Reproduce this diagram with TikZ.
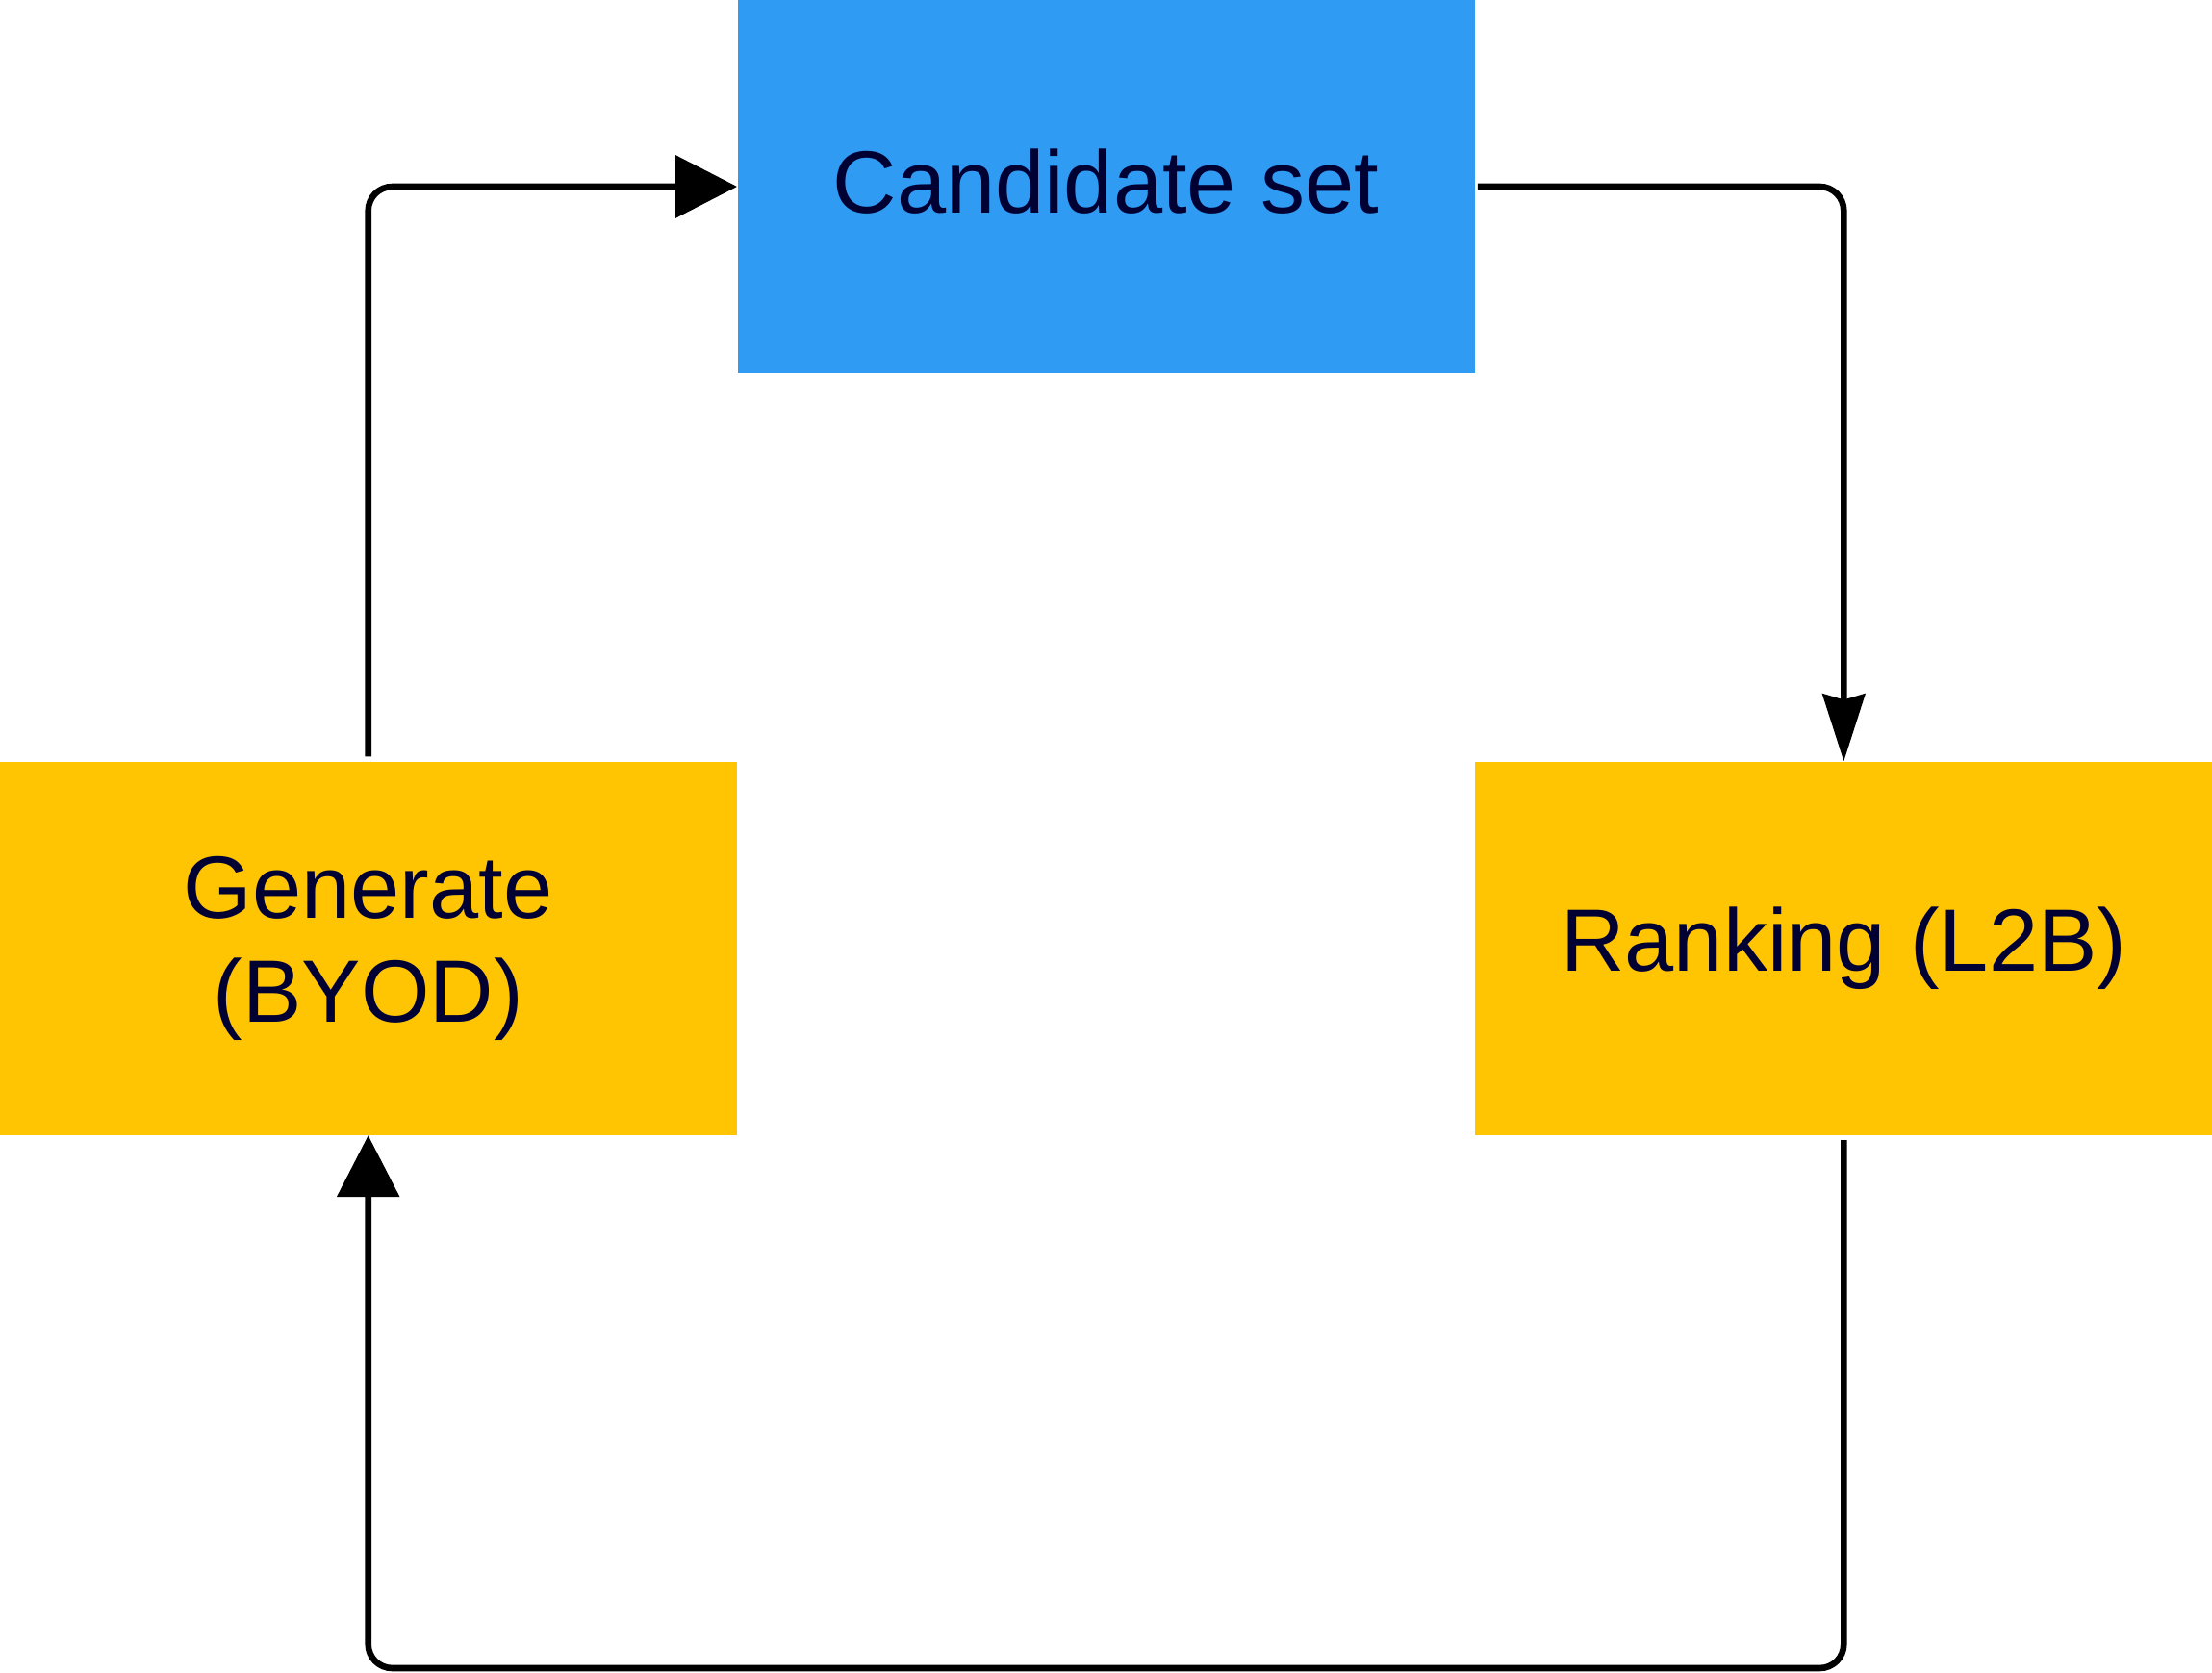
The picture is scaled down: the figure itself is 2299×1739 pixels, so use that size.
\documentclass[tikz,border=0pt]{standalone}
\usepackage{fontspec}
\setmainfont{Liberation Sans}
\usepackage{tikz}
\usetikzlibrary{arrows.meta, positioning}
\usepackage{xcolor}
\definecolor{setBlue}{RGB}{47,155,242}
\definecolor{stepYellow}{RGB}{255,197,3}
\definecolor{labelNavy}{RGB}{0,0,51}
\tikzstyle{stage} = [
    rectangle,
    fill=stepYellow,
    minimum width=383pt,
    minimum height=194pt,
    inner sep=0pt,
    text=labelNavy,
    align=center,
    font=\fontsize{46}{54}\selectfont
]
\tikzstyle{pool} = [
    stage,
    fill=setBlue
]
\tikzstyle{flow} = [
    line width=3.3pt,
    rounded corners=12.5pt
]

\begin{document}
\begin{tikzpicture}[x=0.5pt, y=-0.5pt]
            \useasboundingbox (0,0) rectangle (2299,1739);
            \node[pool] (candidateSet) at (1149.5,194) {Candidate set\rule[-6pt]{0pt}{0pt}};
            \node[stage] (generate) [below left=201.5pt and 0pt of candidateSet] {Generate\\(BYOD)};
            \node[stage] (ranking) [below right=201.5pt and 0pt of candidateSet] {Ranking (L2B)};
            \coordinate (loopBack) at (1149.5,1734);

            \draw[flow, -{Triangle[length=32pt, width=32pt]}, shorten <=2.5pt] (generate.north) |- (candidateSet.west);
            \draw[flow, -{Stealth[length=35pt, width=22pt, inset=3pt]}, shorten <=1.5pt] (candidateSet.east) -| (ranking.north);
            \draw[flow, -{Triangle[length=32pt, width=32pt]}, shorten <=2.5pt] (ranking.south) |- (loopBack) -| (generate.south);
        \end{tikzpicture}
\end{document}
